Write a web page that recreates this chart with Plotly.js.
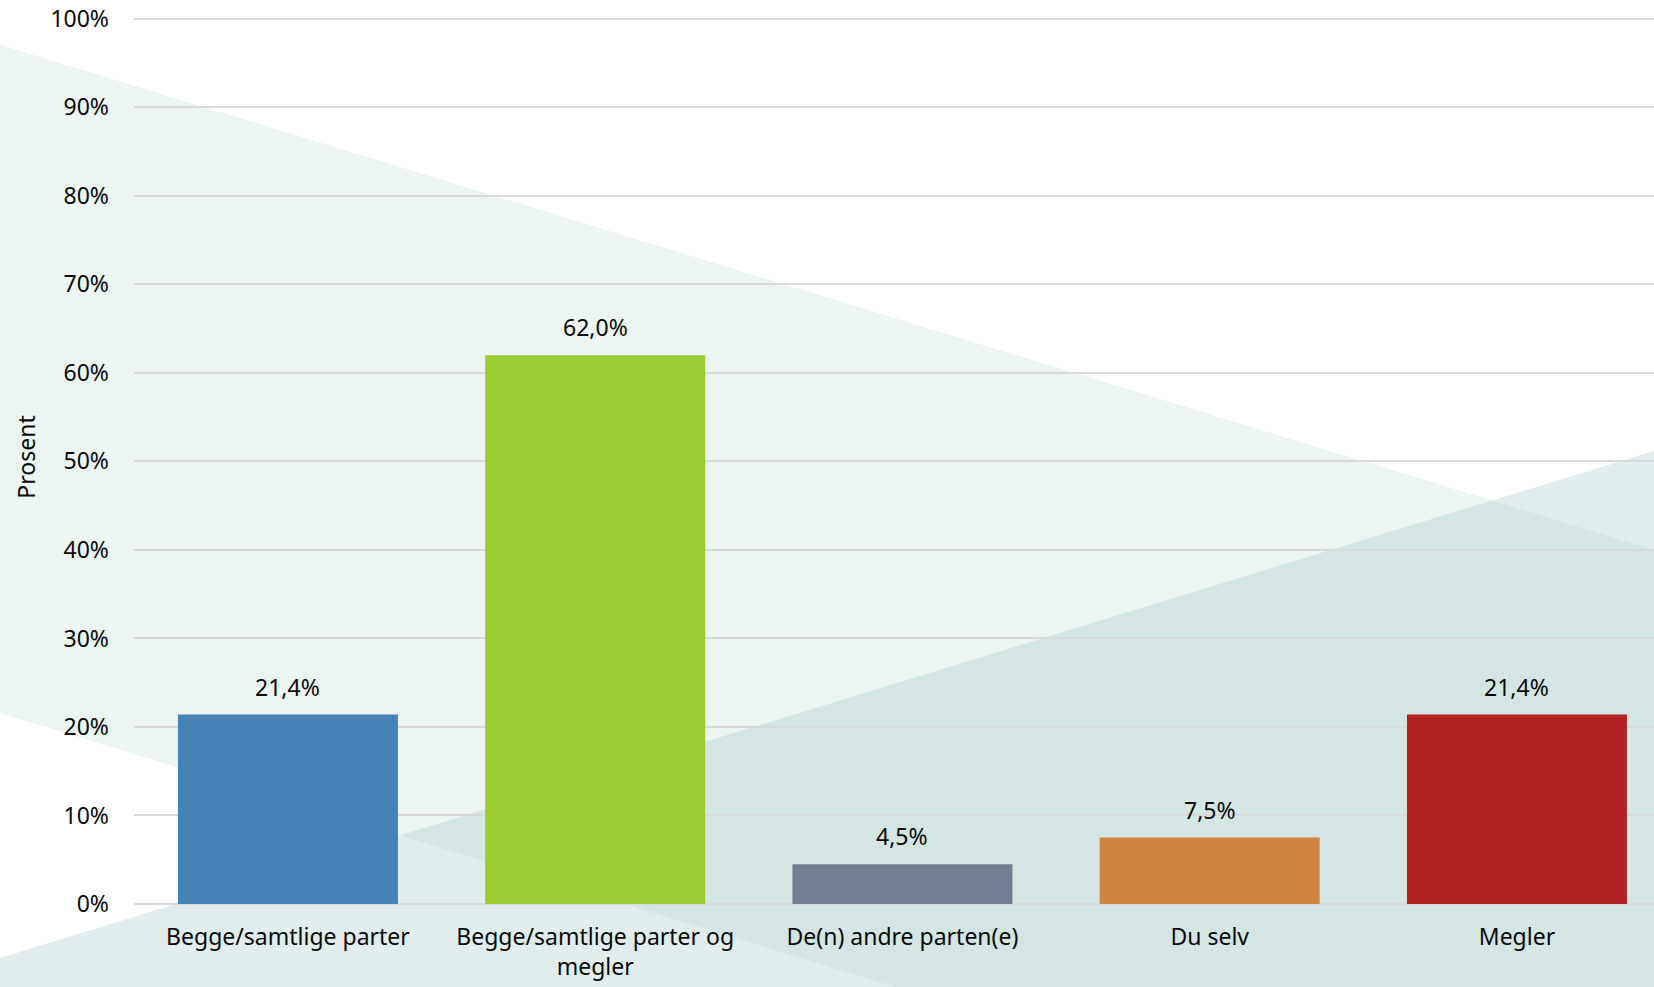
<!DOCTYPE html>
<html>
<head>
<meta charset="utf-8">
<script src="https://cdn.plot.ly/plotly-3.0.1.min.js"></script>
<style>
  html, body { margin: 0; padding: 0; background: #ffffff; }
  #chart { width: 1654px; height: 987px; }
</style>
</head>
<body>
<div id="chart"></div>
<script>
// ---- data ----
const categories = [
  "Begge/samtlige parter",
  "Begge/samtlige parter og<br>megler",
  "De(n) andre parten(e)",
  "Du selv",
  "Megler"
];
const values = [21.4, 62.0, 4.5, 7.5, 21.4];
const valueLabels = ["21,4%", "62,0%", "4,5%", "7,5%", "21,4%"];
const barColors = ["#4682B4", "#9ACD32", "#708090", "#CD853F", "#B22222"];
const yTickVals = [0, 10, 20, 30, 40, 50, 60, 70, 80, 90, 100];
const yTickText = ["0%", "10%", "20%", "30%", "40%", "50%", "60%", "70%", "80%", "90%", "100%"];
const yTitle = "Prosent";

// ---- layout geometry ----
const W = 1654, H = 987;
const yMax = 101;
const unitPx = 8.85;
const mL = 134, mR = 0, mB = 83;
const mT = H - mB - yMax * unitPx;
const pw = W - mL - mR, ph = H - mT - mB;
// pixel -> paper helpers for decorative background
function px(x) { return (x - mL) / pw; }
function py(y) { return (H - mB - y) / ph; }
function poly(pts) {
  return pts.map((p, i) => (i ? "L" : "M") + px(p[0]).toFixed(5) + "," + py(p[1]).toFixed(5)).join(" ") + " Z";
}

const bgLight = [[0, 45], [1654, 550], [1654, 1219], [0, 713]];
const bgMid = [[0, 958], [1654, 451], [1654, 1300], [0, 1300]];
const bgDark = [[400, 835.4], [1492, 500.6], [1654, 550], [1654, 1219]];

const shapes = [
  { type: "path", xref: "paper", yref: "paper", path: poly(bgLight), fillcolor: "#EDF5F2", line: { width: 0 }, layer: "below" },
  { type: "path", xref: "paper", yref: "paper", path: poly(bgMid), fillcolor: "#E0EDEC", line: { width: 0 }, layer: "below" },
  { type: "path", xref: "paper", yref: "paper", path: poly(bgDark), fillcolor: "#D4E6E3", line: { width: 0 }, layer: "below" }
];

const font = { family: "'Noto Sans', 'Open Sans', sans-serif", size: 23, color: "#0a0a0a" };

const annotations = categories.map((c, i) => ({
  x: c, y: values[i], xref: "x", yref: "y",
  text: valueLabels[i], showarrow: false,
  yanchor: "middle", yshift: 28,
  font: font
}));

const trace = {
  type: "bar",
  x: categories,
  y: values,
  marker: { color: barColors, line: { width: 0 } },
  hoverinfo: "none"
};

const layout = {
  width: W, height: H,
  margin: { l: mL, r: mR, t: mT, b: mB, pad: 0 },
  paper_bgcolor: "#ffffff",
  plot_bgcolor: "rgba(0,0,0,0)",
  showlegend: false,
  bargap: 0.284,
  font: font,
  xaxis: {
    type: "category",
    range: [-0.501, 4.446],
    showgrid: false,
    zeroline: false,
    showline: false,
    ticks: "",
    ticklabelstandoff: 17,
    tickfont: font,
    fixedrange: true
  },
  yaxis: {
    range: [0, yMax],
    tickvals: yTickVals,
    ticktext: yTickText,
    showgrid: true,
    gridcolor: "#D9D9D9",
    gridwidth: 2,
    zeroline: true,
    zerolinecolor: "#D9D9D9",
    zerolinewidth: 2,
    showline: false,
    ticks: "",
    ticklabelstandoff: 24,
    tickfont: font,
    title: { text: yTitle, font: font, standoff: 8 },
    fixedrange: true
  },
  shapes: shapes,
  annotations: annotations
};

Plotly.newPlot("chart", [trace], layout, { displayModeBar: false, staticPlot: true });
</script>
</body>
</html>
